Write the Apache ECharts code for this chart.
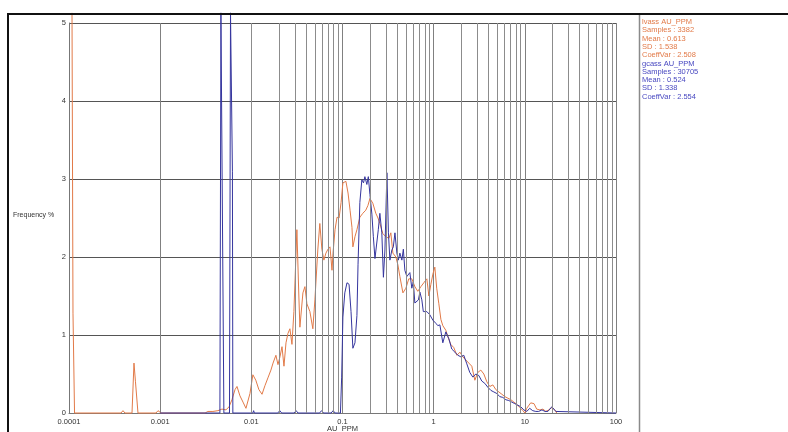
<!DOCTYPE html>
<html>
<head>
<meta charset="utf-8">
<script src="https://cdn.jsdelivr.net/npm/echarts@6/dist/echarts.min.js"></script>
<style>html,body{margin:0;padding:0;background:#fff;}#chart{width:788px;height:432px;}</style>
</head>
<body>
<div id="chart"></div>
<script>
// ---- data (AU_PPM value, Frequency %) ----
const orangeX = [1.079e-4,1.106e-4,1.15e-4,3.72e-4,3.91e-4,4.11e-4,4.91e-4,5.16e-4,5.36e-4,5.50e-4,5.71e-4,9.0e-4,9.47e-4,1.02e-3,
  3.11e-3,3.34e-3,3.79e-3,4.30e-3,4.76e-3,5.27e-3,5.70e-3,6.13e-3,6.62e-3,6.96e-3,7.50e-3,8.10e-3,8.73e-3,9.18e-3,9.66e-3,
  0.0104,0.0112,0.0121,0.0131,0.0141,0.0152,0.0164,0.0173,0.0186,0.0196,0.0206,0.0217,0.0228,0.0240,0.0252,0.0265,0.0279,0.0293,
  0.0316,0.0332,0.0341,0.0368,0.0387,0.0407,0.0439,0.0473,0.0498,0.0536,0.0564,0.0594,0.0625,0.0658,0.0693,0.0729,0.0767,0.0787,
  0.0828,0.0871,0.0917,0.0965,0.101,0.109,0.115,0.121,0.127,0.130,0.137,0.144,0.155,0.167,0.180,0.190,0.200,0.215,0.232,0.245,
  0.257,0.277,0.299,0.323,0.339,0.357,0.385,0.405,0.426,0.460,0.496,0.533,0.576,0.622,0.670,0.724,0.780,0.842,0.886,0.932,0.980,
  1.03,1.08,1.14,1.20,1.26,1.36,1.43,1.54,1.66,1.80,1.94,2.09,2.25,2.43,2.62,2.83,3.05,3.29,3.55,3.83,4.13,4.46,4.81,5.19,5.60,
  6.04,6.51,7.03,7.58,8.18,8.82,9.51,10,10.5,11.1,11.6,12.6,13.5,14.6,15.8,17.0,18.3,19.8,21.3,22.4];
const orangeY = [5.13,1.28,0,0,0.03,0,0,0.64,0.4,0.38,0,0,0.03,0,
  0,0.02,0.02,0.03,0.05,0.04,0.08,0.17,0.3,0.34,0.22,0.14,0.06,0.08,0.25,
  0.49,0.42,0.3,0.24,0.35,0.45,0.55,0.64,0.74,0.62,0.72,0.85,0.6,0.9,1.02,1.08,0.88,1.3,
  2.35,1.5,1.1,1.54,1.62,1.4,1.3,1.08,1.45,2.09,2.43,2.1,1.96,2.05,2.1,2.13,1.83,2.05,
  2.35,2.51,2.5,2.7,2.95,2.97,2.82,2.6,2.38,2.13,2.26,2.35,2.51,2.56,2.6,2.66,2.75,2.69,2.56,2.5,
  2.43,2.3,2.26,2.24,2.31,2.05,2.0,1.9,1.75,1.54,1.6,1.72,1.72,1.62,1.56,1.62,1.67,1.72,1.5,1.65,1.78,
  1.87,1.6,1.4,1.2,1.12,1.06,0.98,0.88,0.84,0.74,0.78,0.72,0.68,0.64,0.6,0.42,0.52,0.55,0.5,0.4,0.34,0.36,0.3,0.27,0.24,
  0.21,0.19,0.17,0.14,0.11,0.07,0.03,0,0.06,0.1,0.13,0.12,0.05,0.04,0.05,0.02,0.04,0.07,0.04,0];

const blueX = [0.001,4.52e-3,4.64e-3,4.88e-3,5.0e-3,5.76e-3,5.91e-3,6.06e-3,6.2e-3,6.27e-3,
  0.0104,0.0106,0.0108,0.0195,0.0205,0.0215,0.0295,0.0310,0.0325,0.0560,0.0590,0.0620,0.0750,0.0790,0.0830,0.0892,0.0949,
  0.0979,0.101,0.106,0.112,0.118,0.124,0.130,0.137,0.144,0.148,0.155,0.163,0.170,0.176,0.185,0.192,0.200,0.210,0.218,0.227,
  0.238,0.247,0.257,0.270,0.281,0.292,0.307,0.319,0.331,0.348,0.361,0.376,0.395,0.410,0.426,0.448,0.465,0.483,0.508,0.528,
  0.548,0.576,0.598,0.622,0.654,0.680,0.706,0.742,0.770,0.800,0.842,0.907,0.980,1.057,1.11,1.17,1.26,1.36,1.47,1.58,1.71,
  1.84,1.99,2.14,2.31,2.49,2.69,2.90,3.13,3.37,3.64,3.93,4.24,4.57,4.93,5.31,5.73,6.19,6.67,7.20,7.76,8.37,9.03,9.74,
  10.5,11.3,12.2,13.2,14.2,15.4,16.6,17.9,18.8,19.8,20.8,21.9,23.0,100];
const blueY = [0,0,5.13,5.13,0,0,5.13,5.13,3.1,0,
  0,0.03,0,0,0.03,0,0,0.03,0,0,0.03,0,0,0.03,0,0,0,
  0.46,1.23,1.54,1.67,1.65,1.3,0.83,0.9,1.25,1.9,2.7,2.99,2.95,3.03,2.93,3.03,2.8,2.55,2.26,1.98,
  2.0,2.35,2.56,2.31,1.74,2.09,3.08,2.31,1.96,2.09,2.13,2.31,2.05,1.96,2.05,1.96,2.1,1.83,1.75,1.74,
  1.8,1.6,1.68,1.41,1.4,1.45,1.55,1.45,1.3,1.32,1.3,1.26,1.19,1.15,1.12,1.13,0.9,1.04,0.95,0.82,0.78,
  0.74,0.72,0.74,0.63,0.52,0.46,0.5,0.48,0.41,0.38,0.33,0.29,0.27,0.25,0.21,0.2,0.17,0.16,0.14,0.12,0.1,0.08,0.04,
  0.02,0.06,0.03,0.02,0.02,0.04,0.02,0.02,0.05,0.08,0.06,0.02,0,0];

const xTickLabels = ['0.0001','0.001','0.01','0.1','1','10','100'];
const yTickLabels = ['0','1','2','3','4','5'];
const legendOrange = ['lvass AU_PPM','Samples : 3382','Mean : 0.613','SD : 1.538','CoeffVar : 2.508'];
const legendBlue = ['gcass AU_PPM','Samples : 30705','Mean : 0.524','SD : 1.338','CoeffVar : 2.554'];
const orangeColor = '#e27a48';
const blueColor = '#35359e';

// minor log grid lines (2..9 in each decade)
const minorGrid = [];
for (let d = -4; d < 2; d++) for (let k = 2; k <= 9; k++) minorGrid.push({xAxis: k * Math.pow(10, d)});

const chart = echarts.init(document.getElementById('chart'), null, {renderer: 'canvas'});
const font = 'Liberation Sans, Arial, sans-serif';
const graphics = [
  {type: 'rect', shape: {x: 8, y: 14, width: 800, height: 440}, style: {fill: 'none', stroke: '#111', lineWidth: 2}, z: 100},
  {type: 'line', shape: {x1: 639.5, y1: 15, x2: 639.5, y2: 432}, style: {stroke: '#8a8a8a', lineWidth: 1.5}, z: 100},
  {type: 'text', left: 13, top: 212, style: {text: 'Frequency %', fontSize: 7, fontFamily: font, fill: '#333'}}
];
legendOrange.forEach((t, i) => graphics.push({type: 'text', left: 642, top: 18 + i * 8.3, style: {text: t, fontSize: 7.5, fontFamily: font, fill: orangeColor}}));
legendBlue.forEach((t, i) => graphics.push({type: 'text', left: 642, top: 18 + (i + 5) * 8.3, style: {text: t, fontSize: 7.5, fontFamily: font, fill: '#4848c0'}}));

chart.setOption({
  animation: false,
  backgroundColor: '#fff',
  grid: {left: 69, top: 23, width: 547, height: 390, containLabel: false, outerBoundsMode: 'none'},
  xAxis: {
    type: 'log', logBase: 10, min: 0.0001, max: 100,
    name: 'AU_PPM', nameLocation: 'middle', nameGap: 12, nameMoveOverlap: false,
    nameTextStyle: {fontSize: 7.5, fontFamily: font, color: '#333'},
    axisLine: {show: true, onZero: false, lineStyle: {color: '#777', width: 1}},
    axisTick: {show: false},
    axisLabel: {fontSize: 7.5, fontFamily: font, color: '#333', margin: 5,
      formatter: v => xTickLabels[Math.round(Math.log10(v)) + 4]},
    splitLine: {show: true, lineStyle: {color: '#808080', width: 1}}
  },
  yAxis: {
    type: 'value', min: 0, max: 5, interval: 1,
    axisLine: {show: true, lineStyle: {color: '#777'}},
    axisTick: {show: false},
    axisLabel: {fontSize: 7.5, fontFamily: font, color: '#333', margin: 3,
      formatter: v => yTickLabels[Math.round(v)]},
    splitLine: {show: true, lineStyle: {color: '#555', width: 1}}
  },
  graphic: graphics,
  series: [
    {type: 'line', data: [], silent: true,
      markLine: {silent: true, symbol: 'none', label: {show: false},
        lineStyle: {color: '#8c8c8c', width: 1, type: 'solid'}, data: minorGrid}},
    {name: 'lvass AU_PPM', type: 'line', showSymbol: false, clip: false,
      data: orangeX.map((x, i) => [x, orangeY[i]]),
      lineStyle: {color: orangeColor, width: 1}, itemStyle: {color: orangeColor}, z: 3},
    {name: 'gcass AU_PPM', type: 'line', showSymbol: false, clip: false,
      data: blueX.map((x, i) => [x, blueY[i]]),
      lineStyle: {color: blueColor, width: 1}, itemStyle: {color: blueColor}, z: 4}
  ]
});
</script>
</body>
</html>
